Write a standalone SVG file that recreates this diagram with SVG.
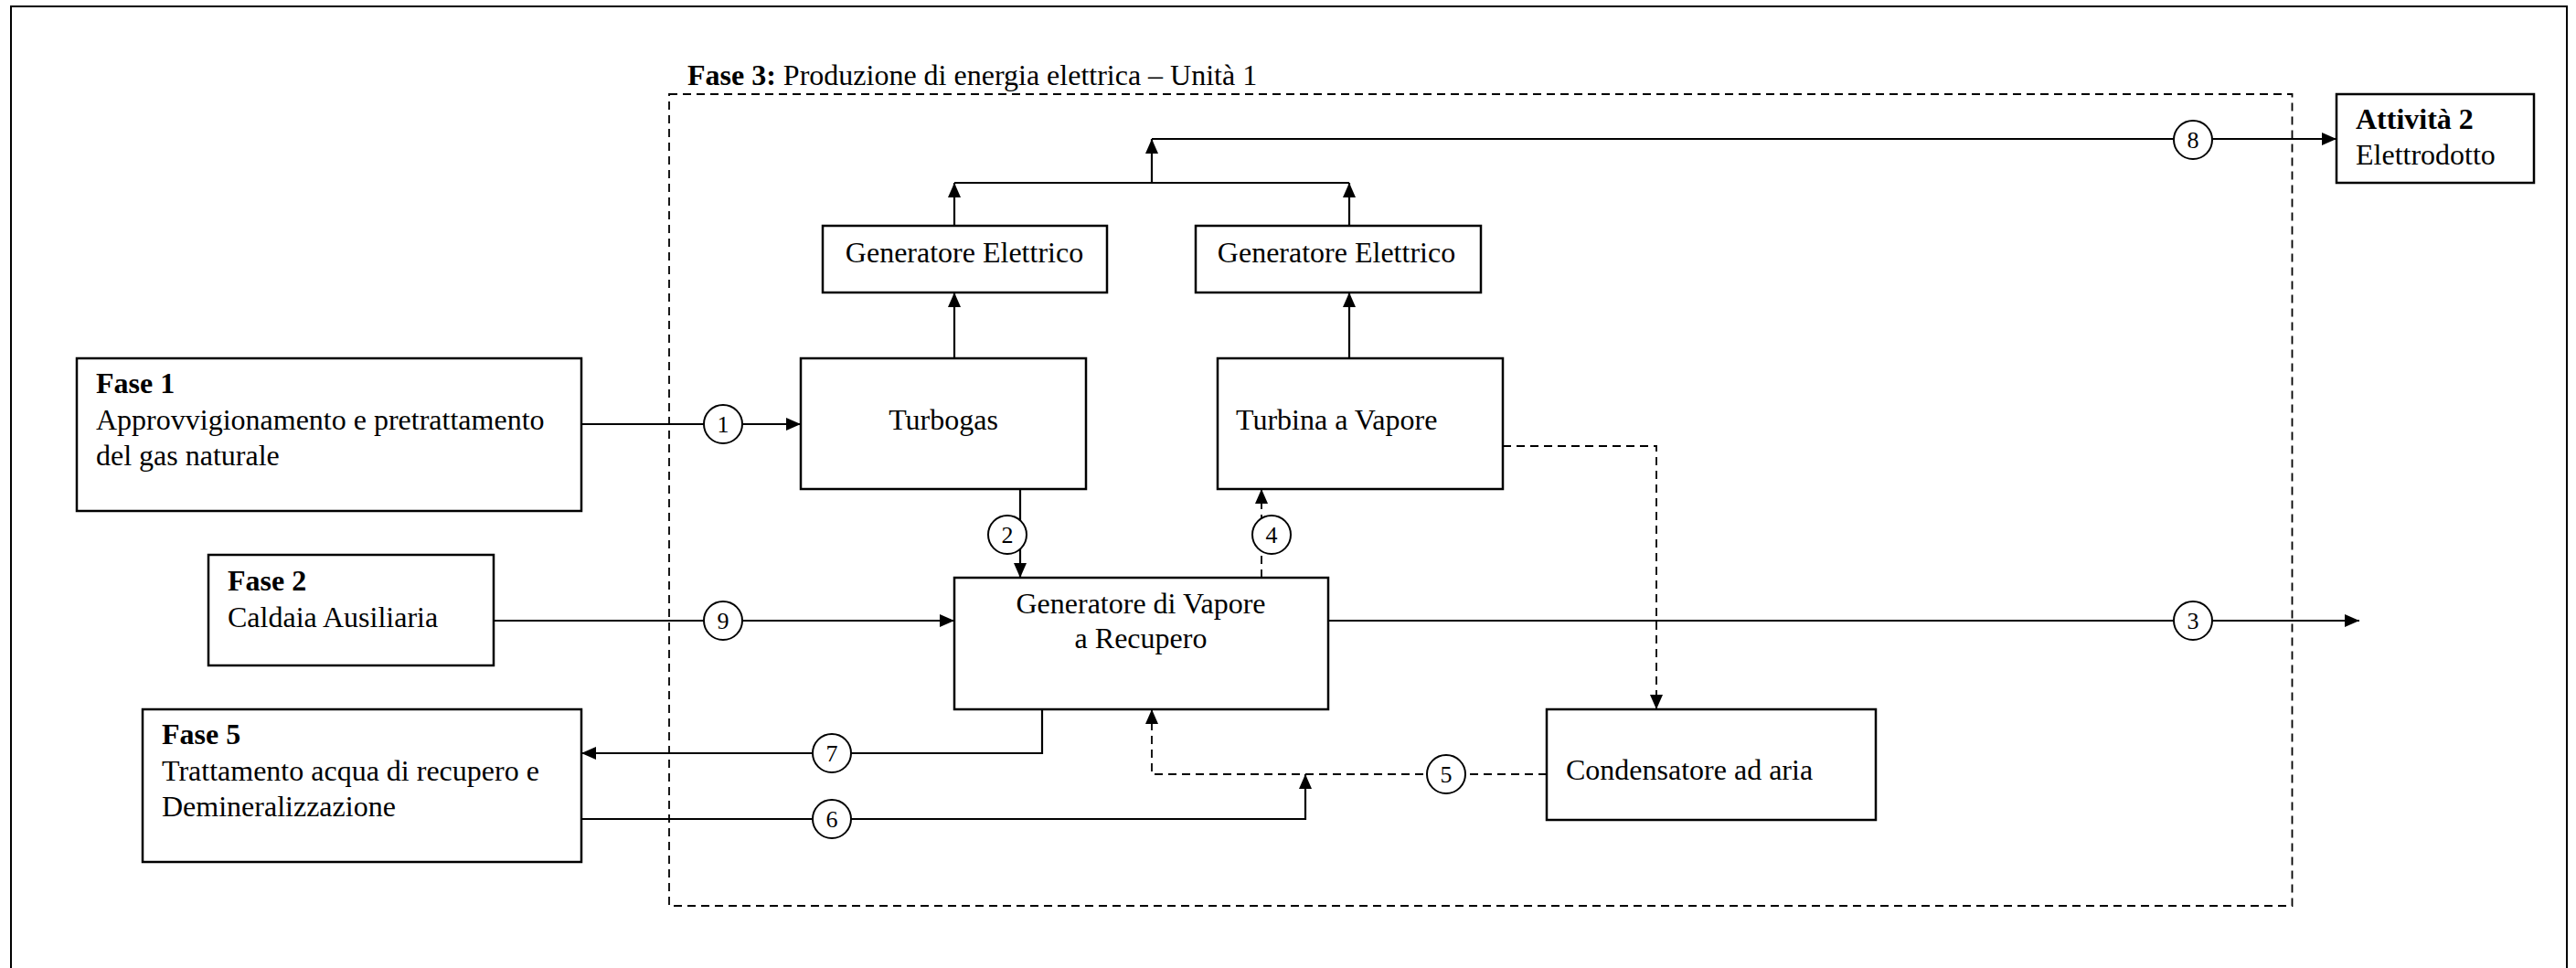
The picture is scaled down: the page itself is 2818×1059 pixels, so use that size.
<svg xmlns="http://www.w3.org/2000/svg" width="2818" height="1059" viewBox="0 0 2818 1059">
<defs>
<style>
text{font-family:"Liberation Serif","Times New Roman",serif;font-size:32px;fill:#000}
.b{font-weight:bold}
.box{fill:#fff;stroke:#000;stroke-width:2.5}
.ln{fill:none;stroke:#000;stroke-width:2.2}
.dl{fill:none;stroke:#000;stroke-width:1.8;stroke-dasharray:9 6}
.frame{fill:none;stroke:#000;stroke-width:2}
.cir{fill:#fff;stroke:#000;stroke-width:2}
.num{font-size:26px;text-anchor:middle}
.mid{text-anchor:middle}
</style>
<marker id="ah" markerUnits="userSpaceOnUse" markerWidth="16" markerHeight="14" refX="16" refY="7" orient="auto">
<path d="M0,0 L16,7 L0,14 Z" fill="#000"/>
</marker>
</defs>
<rect width="2818" height="1059" fill="#fff"/>
<path class="frame" d="M12,1062 V7 H2808 V1062"/>

<g id="fase3">
<rect x="732" y="103" width="1775.5" height="888" fill="none" stroke="#000" stroke-width="1.8" stroke-dasharray="9 6"/>
<text x="752" y="93"><tspan class="b">Fase 3:</tspan> Produzione di energia elettrica – Unità 1</text>
</g>

<g id="connectors">
<path class="ln" d="M1044,392 V320" marker-end="url(#ah)"/>
<path class="ln" d="M1476,392 V320" marker-end="url(#ah)"/>
<path class="ln" d="M1044,247 V200" marker-end="url(#ah)"/>
<path class="ln" d="M1476,247 V200" marker-end="url(#ah)"/>
<path class="ln" d="M1044,200 H1476"/>
<path class="ln" d="M1260,200 V152" marker-end="url(#ah)"/>
<path class="ln" d="M1260,152 H2556" marker-end="url(#ah)"/>
<path class="ln" d="M636,464 H876" marker-end="url(#ah)"/>
<path class="ln" d="M540,679 H1044" marker-end="url(#ah)"/>
<path class="ln" d="M1453,679 H2581" marker-end="url(#ah)"/>
<path class="ln" d="M1116,535 V632" marker-end="url(#ah)"/>
<path class="dl" d="M1380,632 V535" marker-end="url(#ah)"/>
<path class="ln" d="M1140,776 V824 H636" marker-end="url(#ah)"/>
<path class="ln" d="M636,896 H1428 V847" marker-end="url(#ah)"/>
<path class="dl" d="M1692,847 H1260 V776" marker-end="url(#ah)"/>
<path class="dl" d="M1644,488 H1812 V776" marker-end="url(#ah)"/>
<g id="labels">
<circle class="cir" cx="791" cy="464" r="21"/><text class="num" x="791" y="473">1</text>
<circle class="cir" cx="1102" cy="585" r="21"/><text class="num" x="1102" y="594">2</text>
<circle class="cir" cx="2399" cy="679" r="21"/><text class="num" x="2399" y="688">3</text>
<circle class="cir" cx="1391" cy="585" r="21"/><text class="num" x="1391" y="594">4</text>
<circle class="cir" cx="1582" cy="847" r="21"/><text class="num" x="1582" y="856">5</text>
<circle class="cir" cx="910" cy="896" r="21"/><text class="num" x="910" y="905">6</text>
<circle class="cir" cx="910" cy="824" r="21"/><text class="num" x="910" y="833">7</text>
<circle class="cir" cx="2399" cy="153" r="21"/><text class="num" x="2399" y="162">8</text>
<circle class="cir" cx="791" cy="679" r="21"/><text class="num" x="791" y="688">9</text>
</g>
</g>

<g id="fase1">
<rect class="box" x="84" y="392" width="552" height="167"/>
<text class="b" x="105" y="430">Fase 1</text>
<text x="105" y="470">Approvvigionamento e pretrattamento</text>
<text x="105" y="509">del gas naturale</text>
</g>
<g id="fase2">
<rect class="box" x="228" y="607" width="312" height="121"/>
<text class="b" x="249" y="646">Fase 2</text>
<text x="249" y="686">Caldaia Ausiliaria</text>
</g>
<g id="fase5">
<rect class="box" x="156" y="776" width="480" height="167"/>
<text class="b" x="177" y="814">Fase 5</text>
<text x="177" y="854">Trattamento acqua di recupero e</text>
<text x="177" y="893">Demineralizzazione</text>
</g>
<g id="attivita2">
<rect class="box" x="2556" y="103" width="216" height="97"/>
<text class="b" x="2577" y="141">Attività 2</text>
<text x="2577" y="180">Elettrodotto</text>
</g>
<g id="gen1">
<rect class="box" x="900" y="247" width="311" height="73"/>
<text class="mid" x="1055" y="287">Generatore Elettrico</text>
</g>
<g id="gen2">
<rect class="box" x="1308" y="247" width="312" height="73"/>
<text class="mid" x="1462" y="287">Generatore Elettrico</text>
</g>
<g id="turbogas">
<rect class="box" x="876" y="392" width="312" height="143"/>
<text class="mid" x="1032" y="470">Turbogas</text>
</g>
<g id="turbina">
<rect class="box" x="1332" y="392" width="312" height="143"/>
<text x="1352" y="470">Turbina a Vapore</text>
</g>
<g id="gvr">
<rect class="box" x="1044" y="632" width="409" height="144"/>
<text class="mid" x="1248" y="671">Generatore di Vapore</text>
<text class="mid" x="1248" y="709">a Recupero</text>
</g>
<g id="condensatore">
<rect class="box" x="1692" y="776" width="360" height="121"/>
<text x="1713" y="853">Condensatore ad aria</text>
</g>
</svg>
